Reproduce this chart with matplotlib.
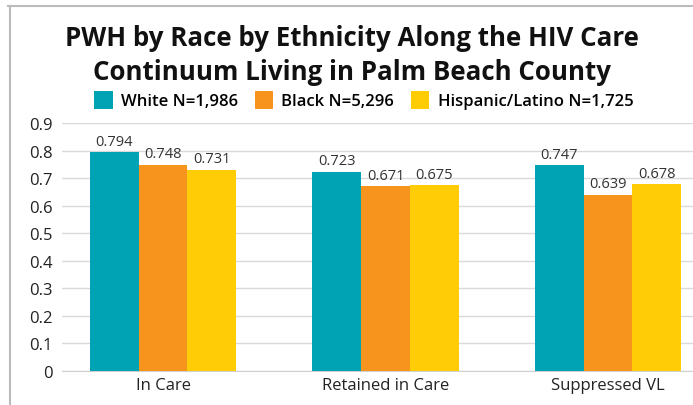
import matplotlib.pyplot as plt
import numpy as np
from matplotlib.lines import Line2D

categories = ['In Care', 'Retained in Care', 'Suppressed VL']
groups = ['White N=1,986', 'Black N=5,296', 'Hispanic/Latino N=1,725']
white = [0.794, 0.723, 0.747]
black = [0.748, 0.671, 0.639]
hispanic = [0.731, 0.675, 0.678]
colors = ['#00A3B4', '#F7941D', '#FFCC05']

plt.rcParams['font.family'] = ['Open Sans', 'DejaVu Sans']

fig = plt.figure(figsize=(6.93, 4.06), dpi=100)
ax = fig.add_axes([62/693, 1-372/406, 1-62/693, (372-124)/406])

x = np.arange(len(categories))
w = 0.22
for i, (vals, lab) in enumerate(zip([white, black, hispanic], groups)):
    bars = ax.bar(x + (i-1)*w, vals, w, color=colors[i], label=lab, zorder=3)
    for b, v in zip(bars, vals):
        ax.annotate('%.3f' % v, (b.get_x()+b.get_width()/2, v), xytext=(0, 2.5),
                    textcoords='offset points', ha='center', va='bottom',
                    fontsize=10.5, color='#333333')

ax.set_xlim(-0.454, 2.382)
ax.set_ylim(0, 0.9)
ax.set_yticks(np.arange(0, 0.91, 0.1))
ax.set_yticklabels(['0'] + ['%.1f' % t for t in np.arange(0.1, 0.91, 0.1)])
ax.set_xticks(x)
ax.set_xticklabels(categories)
ax.tick_params(axis='both', length=0, labelsize=12, colors='#222222')
ax.tick_params(axis='y', pad=7)
ax.tick_params(axis='x', pad=4)
ax.grid(axis='y', color='#D9D9D9', linewidth=1, zorder=0)
for s in ['top', 'right', 'left']:
    ax.spines[s].set_visible(False)
ax.spines['bottom'].set_color('#D0D0D0')

fig.text(0.508, 1-39/406, 'PWH by Race by Ethnicity Along the HIV Care',
         ha='center', va='center', fontsize=18.6, fontweight='bold', color='#111111')
fig.text(0.508, 1-73/406, 'Continuum Living in Palm Beach County',
         ha='center', va='center', fontsize=18.6, fontweight='bold', color='#111111')

leg = fig.legend(loc='center', bbox_to_anchor=(0.525, 1-101/406), ncol=3, frameon=False,
                 fontsize=12, handlelength=1.1, handleheight=1.3, handletextpad=0.5,
                 columnspacing=1.0)
for t in leg.get_texts():
    t.set_fontweight('semibold')

fig.add_artist(Line2D([8/693, 1], [1-7/406, 1-7/406], transform=fig.transFigure,
                      color='#BBBBBB', linewidth=1.5))
fig.add_artist(Line2D([10/693, 10/693], [0, 1-7/406], transform=fig.transFigure,
                      color='#BBBBBB', linewidth=1.5))

fig.savefig('out.png', dpi=100)
